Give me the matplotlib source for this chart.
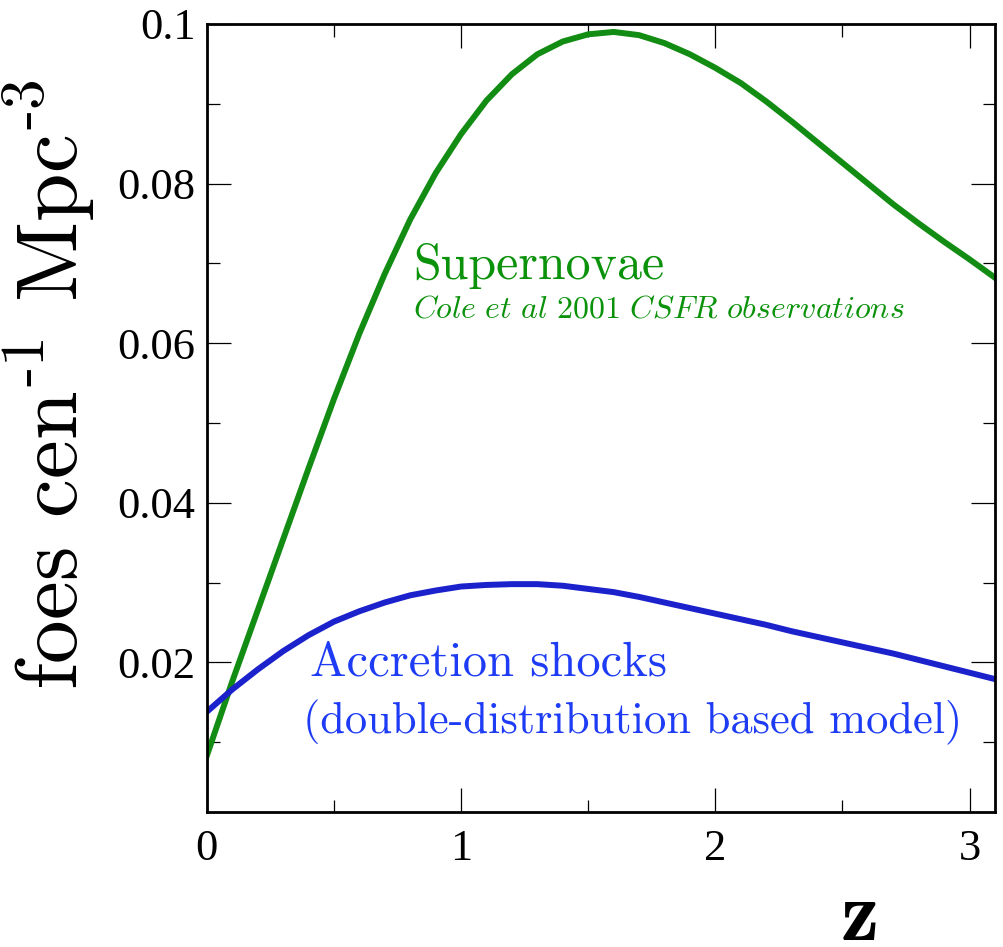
import matplotlib
matplotlib.use('Agg')
import matplotlib.pyplot as plt
from matplotlib.ticker import MultipleLocator

plt.rcParams['mathtext.fontset'] = 'cm'
plt.rcParams['axes.unicode_minus'] = False

# redshift grid
z = [0, 0.1, 0.2, 0.3, 0.4, 0.5, 0.6, 0.7, 0.8, 0.9, 1.0, 1.1, 1.2, 1.3, 1.4, 1.5,
     1.6, 1.7, 1.8, 1.9, 2.0, 2.1, 2.2, 2.3, 2.4, 2.5, 2.6, 2.7, 2.8, 2.9, 3.0, 3.1]

# Supernovae (Cole et al 2001 CSFR)
foes_sn = [0.0083, 0.0176, 0.0265, 0.0354, 0.0443, 0.0530, 0.0612, 0.0687, 0.0755,
           0.0813, 0.0862, 0.0904, 0.0937, 0.0962, 0.0978, 0.0987, 0.0990, 0.0986,
           0.0976, 0.0962, 0.0945, 0.0926, 0.0903, 0.0878, 0.0852, 0.0826, 0.0800,
           0.0774, 0.0750, 0.0727, 0.0705, 0.0682]

# Accretion shocks (double-distribution model)
foes_acc = [0.0138, 0.0166, 0.0191, 0.0214, 0.0234, 0.0251, 0.0264, 0.0275, 0.0284,
            0.0290, 0.0295, 0.0297, 0.0298, 0.0298, 0.0296, 0.0292, 0.0288, 0.0282,
            0.0275, 0.0268, 0.0261, 0.0254, 0.0247, 0.0239, 0.0232, 0.0225, 0.0218,
            0.0211, 0.0203, 0.0195, 0.0187, 0.0179]

green_line = '#128c12'
blue_line = '#1b22cc'
green_txt = '#0a920a'
blue_txt = '#1e3cf5'

fig = plt.figure(figsize=(10.04, 9.47), dpi=100)
ax = fig.add_axes([0.206, 0.1426, 0.785, 0.8321])

ax.plot(z, foes_sn, color=green_line, lw=4.3)
ax.plot(z, foes_acc, color=blue_line, lw=4.3)

ax.set_xlim(0, 3.1)
ax.set_ylim(0.00125, 0.1)
ax.xaxis.set_minor_locator(MultipleLocator(0.5))
ax.yaxis.set_minor_locator(MultipleLocator(0.01))
ax.set_yticks([0.02, 0.04, 0.06, 0.08, 0.1])
ax.set_yticklabels(['0.02', '0.04', '0.06', '0.08', '0.1'])
ax.set_xticks([0, 1, 2, 3])
ax.set_xticklabels(['0', '1', '2', '3'])

ax.tick_params(which='both', direction='in', top=True, right=True, width=0.9)
ax.tick_params(which='major', length=17)
ax.tick_params(which='minor', length=9)
ax.tick_params(axis='x', which='major', pad=12)
ax.tick_params(axis='y', which='major', pad=8)
for lab in ax.get_xticklabels() + ax.get_yticklabels():
    lab.set_fontfamily('Liberation Serif')
    lab.set_fontsize(32)
for sp in ax.spines.values():
    sp.set_linewidth(2)

ax.set_ylabel(r'foes cen$^{\text{-}1}$ Mpc$^{\text{-}3}$', fontfamily='cmr10',
              fontsize=63)
ax.yaxis.set_label_coords(-0.138, 0.542)

ax.text(0.81, 0.068, 'Supernovae', color=green_txt, fontfamily='cmr10',
        fontsize=36, va='baseline')
ax.text(0.81, 0.0632, r'$\mathit{Cole\ et\ al\ 2001\ CSFR\ observations}$',
        color=green_txt, fontsize=23, va='baseline')
ax.text(0.405, 0.0183, 'Accretion shocks', color=blue_txt, fontfamily='cmr10',
        fontsize=35, va='baseline')
ax.text(0.377, 0.0111, '(double-distribution based model)', color=blue_txt,
        fontfamily='cmr10', fontsize=32, va='baseline')

fig.text(860 / 1004, 1 - 940 / 947, 'z', fontfamily='cmb10', fontsize=62,
         ha='center', va='baseline')

fig.savefig('out.png', dpi=100)
